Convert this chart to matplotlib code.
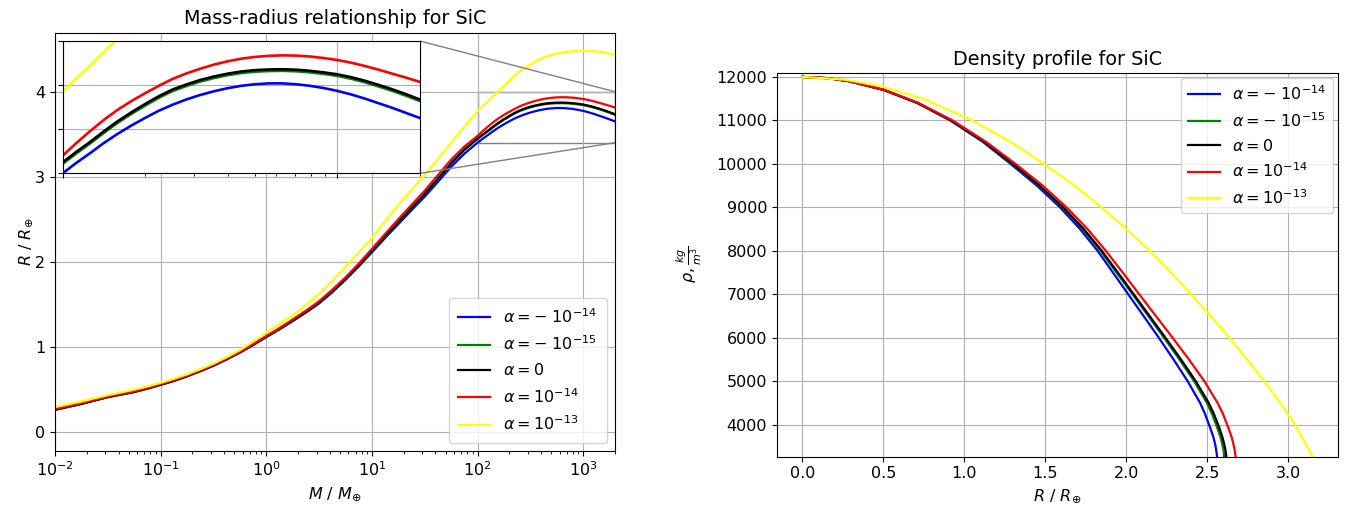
import numpy as np
import matplotlib.pyplot as plt
from mpl_toolkits.axes_grid1.inset_locator import mark_inset

plt.rcParams['font.size'] = 11.5
plt.rcParams['lines.linewidth'] = 1.6

labels = [r'$\alpha = -\ 10^{-14}$', r'$\alpha = -\ 10^{-15}$', r'$\alpha = 0$',
          r'$\alpha = 10^{-14}$', r'$\alpha = 10^{-13}$']
colors = ['blue', 'green', 'black', 'red', 'yellow']

# mass-radius curves, M in earth masses, R in earth radii
mass = [0.01, 0.0133, 0.0178, 0.0237, 0.0316, 0.0422, 0.0562, 0.075, 0.1, 0.133,
        0.178, 0.237, 0.316, 0.422, 0.562, 0.75, 1.0, 1.33, 1.78, 2.37,
        3.16, 4.22, 5.62, 7.5, 10, 13.3, 17.8, 23.7, 31.6, 42.2,
        56.2, 75, 100, 112, 126, 141, 158, 178, 200, 224,
        251, 282, 316, 355, 398, 447, 501, 562, 631, 708,
        794, 891, 1000, 1122, 1259, 1413, 1585, 1778, 1995]
r_neg14 = [0.255, 0.29, 0.325, 0.365, 0.405, 0.435, 0.465, 0.505, 0.55, 0.595,
           0.65, 0.71, 0.775, 0.85, 0.93, 1.018, 1.112, 1.202, 1.30, 1.40,
           1.508, 1.64, 1.785, 1.943, 2.11, 2.277, 2.443, 2.605, 2.765, 2.94,
           3.115, 3.27, 3.40, 3.447, 3.492, 3.537, 3.578, 3.617, 3.652, 3.684,
           3.711, 3.735, 3.755, 3.772, 3.786, 3.797, 3.804, 3.808, 3.808, 3.804,
           3.797, 3.787, 3.774, 3.758, 3.739, 3.718, 3.697, 3.674, 3.651]
r_neg15 = [0.258, 0.293, 0.328, 0.368, 0.408, 0.438, 0.468, 0.508, 0.553, 0.598,
           0.653, 0.713, 0.778, 0.852, 0.932, 1.022, 1.117, 1.206, 1.306, 1.406,
           1.515, 1.65, 1.795, 1.954, 2.124, 2.293, 2.463, 2.627, 2.792, 2.972,
           3.152, 3.313, 3.443, 3.49, 3.536, 3.583, 3.628, 3.67, 3.708, 3.743,
           3.773, 3.796, 3.816, 3.832, 3.845, 3.855, 3.861, 3.864, 3.865, 3.863,
           3.858, 3.851, 3.842, 3.829, 3.813, 3.794, 3.774, 3.752, 3.728]
r_zero = [0.26, 0.295, 0.33, 0.37, 0.41, 0.44, 0.47, 0.51, 0.555, 0.60,
          0.655, 0.715, 0.78, 0.855, 0.935, 1.025, 1.12, 1.21, 1.31, 1.41,
          1.52, 1.655, 1.80, 1.96, 2.13, 2.30, 2.47, 2.635, 2.80, 2.98,
          3.16, 3.32, 3.45, 3.497, 3.543, 3.59, 3.635, 3.677, 3.715, 3.75,
          3.78, 3.803, 3.823, 3.839, 3.852, 3.862, 3.868, 3.871, 3.872, 3.87,
          3.865, 3.858, 3.849, 3.836, 3.82, 3.801, 3.781, 3.759, 3.735]
r_pos14 = [0.265, 0.30, 0.335, 0.375, 0.415, 0.445, 0.475, 0.515, 0.56, 0.605,
           0.66, 0.72, 0.785, 0.86, 0.94, 1.03, 1.125, 1.218, 1.32, 1.423,
           1.535, 1.67, 1.815, 1.977, 2.15, 2.325, 2.50, 2.668, 2.835, 3.02,
           3.20, 3.355, 3.48, 3.537, 3.592, 3.642, 3.687, 3.728, 3.764, 3.797,
           3.828, 3.853, 3.874, 3.893, 3.908, 3.92, 3.928, 3.933, 3.935, 3.934,
           3.93, 3.923, 3.914, 3.902, 3.887, 3.87, 3.852, 3.834, 3.815]
r_pos13 = [0.29, 0.322, 0.355, 0.393, 0.43, 0.462, 0.495, 0.533, 0.575, 0.622,
           0.675, 0.735, 0.80, 0.877, 0.96, 1.06, 1.165, 1.265, 1.37, 1.49,
           1.62, 1.775, 1.94, 2.11, 2.28, 2.475, 2.67, 2.845, 3.02, 3.21,
           3.40, 3.59, 3.77, 3.83, 3.89, 3.95, 4.01, 4.07, 4.13, 4.187,
           4.24, 4.283, 4.32, 4.357, 4.39, 4.413, 4.432, 4.448, 4.46, 4.469,
           4.475, 4.479, 4.48, 4.479, 4.475, 4.469, 4.461, 4.451, 4.44]
radii = [r_neg14, r_neg15, r_zero, r_pos14, r_pos13]

# density profiles, rho in kg/m^3 against R / R_earth
rho = [12000, 11970, 11900, 11700, 11400, 11000, 10500, 10000, 9500, 9000,
       8500, 8000, 7500, 7000, 6500, 6000, 5500, 5000, 4500, 4250,
       4000, 3900, 3700, 3550, 3450, 3350, 3300, 3260]
prof_neg14 = [0.0, 0.159, 0.29, 0.502, 0.708, 0.912, 1.116, 1.285, 1.447, 1.59,
              1.714, 1.822, 1.917, 2.011, 2.106, 2.20, 2.291, 2.378, 2.455, 2.485,
              2.51, 2.52, 2.538, 2.548, 2.553, 2.557, 2.559, 2.56]
prof_neg15 = [0.0, 0.159, 0.29, 0.503, 0.711, 0.917, 1.123, 1.296, 1.46, 1.604,
              1.73, 1.84, 1.939, 2.038, 2.135, 2.232, 2.327, 2.418, 2.497, 2.528,
              2.554, 2.564, 2.582, 2.592, 2.598, 2.602, 2.603, 2.604]
prof_zero = [0.0, 0.159, 0.291, 0.504, 0.712, 0.919, 1.126, 1.30, 1.465, 1.61,
             1.737, 1.848, 1.947, 2.045, 2.143, 2.241, 2.337, 2.428, 2.508, 2.54,
             2.566, 2.576, 2.594, 2.604, 2.61, 2.614, 2.616, 2.617]
prof_pos14 = [0.0, 0.16, 0.292, 0.506, 0.716, 0.926, 1.136, 1.315, 1.483, 1.63,
              1.76, 1.873, 1.977, 2.079, 2.182, 2.285, 2.386, 2.481, 2.563, 2.596,
              2.622, 2.632, 2.651, 2.661, 2.667, 2.671, 2.673, 2.675]
rho_pos13 = [12000, 11934, 11773, 11490, 11000, 10470, 10000, 9500, 9000, 8500, 8000,
             7500, 7000, 6500, 6000, 5500, 5000, 4500, 4000, 3600, 3260]
prof_pos13 = [0.0, 0.27, 0.5, 0.75, 1.05, 1.3, 1.49, 1.68, 1.845, 2.0, 2.144,
              2.275, 2.40, 2.52, 2.635, 2.745, 2.85, 2.95, 3.04, 3.10, 3.15]
profiles = [(prof_neg14, rho), (prof_neg15, rho), (prof_zero, rho),
            (prof_pos14, rho), (prof_pos13, rho_pos13)]

fig = plt.figure(figsize=(13.51, 5.08), dpi=100)

ax1 = fig.add_axes([0.0407, 0.1128, 0.4145, 0.8228])
for r, c, lab in zip(radii, colors, labels):
    ax1.plot(mass, r, color=c, label=lab)
ax1.set_xscale('log')
ax1.set_xlim(1e-2, 2e3)
ax1.set_ylim(-0.224, 4.694)
ax1.set_xlabel(r'$M\ /\ M_{\oplus}$')
ax1.set_ylabel(r'$R\ /\ R_{\oplus}$', labelpad=0)
ax1.set_title('Mass-radius relationship for SiC')
ax1.grid(True)
ax1.legend(loc='lower right', labelspacing=0.55, borderpad=0.6)

# zoom on the maximum radius
axins = fig.add_axes([0.0464, 0.6588, 0.2645, 0.2604])
for r, c in zip(radii, colors):
    axins.plot(mass, r, color=c, lw=1.9)
axins.set_xscale('log')
axins.set_xlim(100, 2000)
axins.set_ylim(3.4, 4.0)
axins.set_yticks([3.4, 3.6, 3.8, 4.0])
axins.set_xticklabels([], minor=True)
axins.set_xticklabels([])
axins.set_yticklabels([])
axins.grid(True)
mark_inset(ax1, axins, loc1=1, loc2=4, fc='none', ec='0.5')

ax2 = fig.add_axes([0.5751, 0.101, 0.4152, 0.7553])
for (x, y), c, lab in zip(profiles, colors, labels):
    ax2.plot(x, y, color=c, label=lab)
ax2.set_xlim(-0.157, 3.306)
ax2.set_ylim(3260, 12090)
ax2.set_xlabel(r'$R\ /\ R_{\oplus}$')
ax2.set_ylabel(r'$\rho, \frac{kg}{m^3}$', labelpad=9)
ax2.set_title('Density profile for SiC')
ax2.grid(True)
ax2.legend(loc='upper right', borderaxespad=0.3)

fig.savefig('out.png', dpi=100)
